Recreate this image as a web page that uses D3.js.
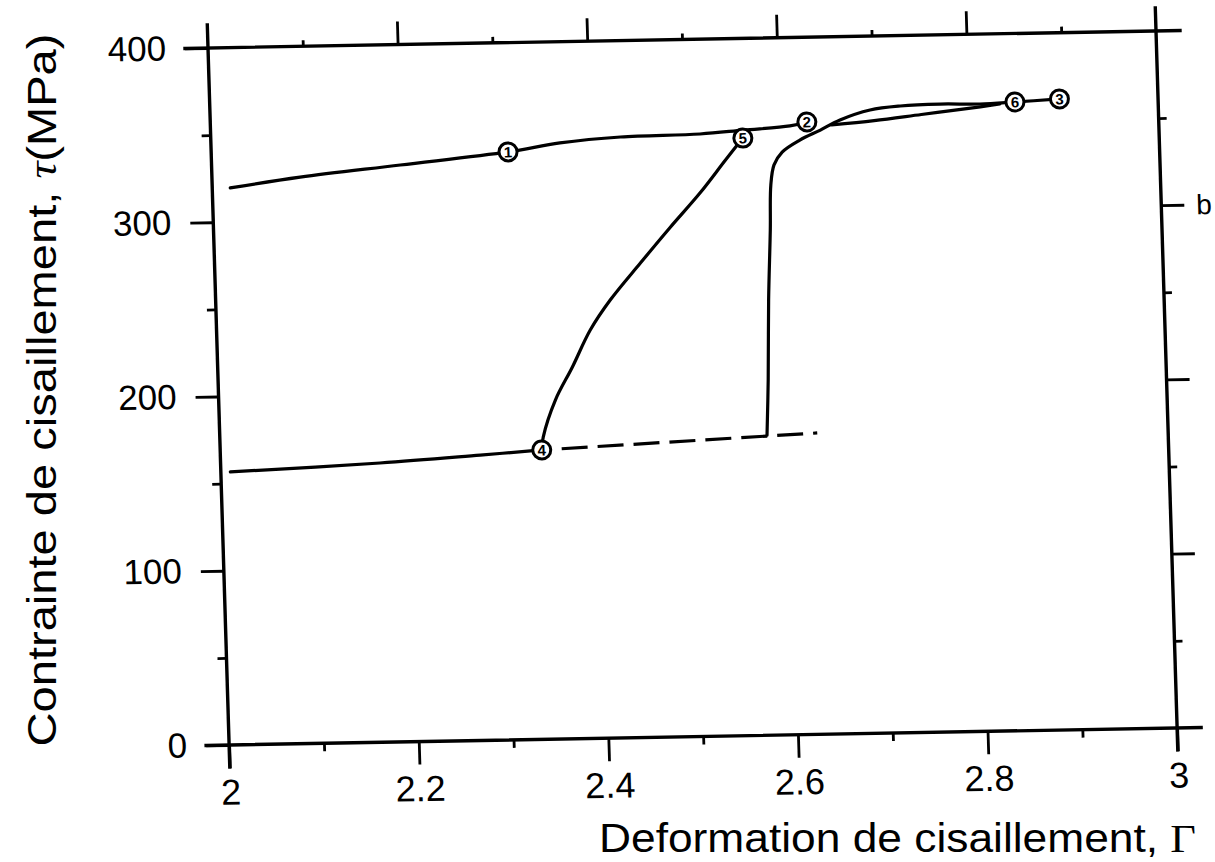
<!DOCTYPE html>
<html><head><meta charset="utf-8">
<script src="https://cdn.jsdelivr.net/npm/d3@7"></script>
<style>
html,body{margin:0;padding:0;background:#fff;}
svg{display:block;}
text{font-family:"Liberation Sans", Arial, Helvetica, sans-serif; fill:#000;}
</style></head><body>
<svg id="chart" width="1215" height="862"></svg>
<script>
// ---- tick values ----
const xMajorTicks = [2, 2.2, 2.4, 2.6, 2.8, 3];
const xMinorTicks = [2.1, 2.3, 2.5, 2.7, 2.9];
const topMajorTicks = [2.2, 2.4, 2.6, 2.8];
const yMajorTicks = [0, 100, 200, 300, 400];
const yMinorTicks = [50, 150, 250, 350];
const rightMajorTicks = [100, 200, 300];

// ---- series (shear strain Γ, shear stress τ MPa) ----
const gammaUpper = [2.019, 2.093, 2.199, 2.313, 2.368, 2.432, 2.516, 2.562, 2.611, 2.629];
const tauUpper   = [319.5, 325.0, 330.9, 337.3, 341.9, 344.7, 345.6, 347.4, 349.3, 351.4];

const gammaLower = [2.01, 2.168, 2.274, 2.339];
const tauLower   = [156.6, 160.2, 163.7, 166.0];

const gammaRise = [2.339, 2.341, 2.355, 2.374, 2.394, 2.416, 2.449, 2.481, 2.514, 2.542, 2.561];
const tauRise   = [166.0, 173.4, 194.5, 213.3, 234.3, 251.3, 272.2, 292.0, 311.7, 330.4, 342.8];

const gammaDashed = [2.339, 2.63];
const tauDashed   = [166.0, 172.9];

const gammaReload = [2.577, 2.580, 2.583, 2.587, 2.589, 2.593, 2.602, 2.621, 2.643, 2.664, 2.696, 2.728, 2.770, 2.812, 2.849, 2.896];
const tauReload   = [172.2, 203.8, 249.6, 289.8, 315.6, 327.1, 334.4, 341.1, 346.6, 352.2, 357.6, 359.6, 360.3, 359.9, 360.7, 362.0];

const gammaLens = [2.655, 2.70, 2.75, 2.80, 2.833];
const tauLens   = [349.5, 351.5, 354.5, 357.5, 359.7];

const markerLabels = ["1", "2", "3", "4", "5", "6"];
const markerGamma  = [2.313, 2.629, 2.896, 2.339, 2.561, 2.849];
const markerTau    = [337.3, 351.4, 362.0, 166.0, 342.8, 360.7];

// ---- drawing ----
const W = 948, H = 697;
const svg = d3.select("#chart");
const x = d3.scaleLinear().domain([2, 3]).range([0, W]);
const y = d3.scaleLinear().domain([0, 400]).range([H, 0]);

// scanned figure is slightly sheared
const g = svg.append("g").attr("transform", "matrix(1,-0.018,0.0303,1,208,48)");

// frame lines (extended past corners like the original)
const frame = [
  [[-23, 0], [W + 24, 0]],
  [[-23, H], [W + 24, H]],
  [[0, -23], [0, H + 22]],
  [[W, -23], [W, H + 22]]
];
g.selectAll("line.frame").data(frame).join("line")
  .attr("class", "frame")
  .attr("x1", d => d[0][0]).attr("y1", d => d[0][1])
  .attr("x2", d => d[1][0]).attr("y2", d => d[1][1])
  .attr("stroke", "#000").attr("stroke-width", 3.4).attr("stroke-linecap", "square");

function styleAxis(sel, fs) {
  sel.select(".domain").remove();
  sel.selectAll(".tick line").attr("stroke", "#000").attr("stroke-width", 2.8);
  sel.selectAll(".tick text").attr("font-size", fs).attr("fill", "#000")
    .attr("font-family", "'Liberation Sans', Arial, Helvetica, sans-serif");
}

const fmt = d3.format("~g");
g.append("g").attr("transform", `translate(0,${H})`)
  .call(d3.axisBottom(x).tickValues(xMajorTicks).tickSize(23).tickPadding(11).tickFormat(fmt))
  .call(s => styleAxis(s, 36));
g.append("g").attr("transform", `translate(0,${H})`)
  .call(d3.axisBottom(x).tickValues(xMinorTicks).tickSize(8).tickFormat(""))
  .call(s => styleAxis(s, 36));

g.append("g")
  .call(d3.axisTop(x).tickValues(topMajorTicks).tickSize(23).tickFormat(""))
  .call(s => styleAxis(s, 36));
g.append("g")
  .call(d3.axisTop(x).tickValues(xMinorTicks).tickSize(6).tickFormat(""))
  .call(s => styleAxis(s, 36));

g.append("g")
  .call(d3.axisLeft(y).tickValues(yMajorTicks).tickSize(23).tickPadding(19).tickFormat(fmt))
  .call(s => styleAxis(s, 35));
g.append("g")
  .call(d3.axisLeft(y).tickValues(yMinorTicks).tickSize(9).tickFormat(""))
  .call(s => styleAxis(s, 35));

g.append("g").attr("transform", `translate(${W},0)`)
  .call(d3.axisRight(y).tickValues(rightMajorTicks).tickSize(23).tickFormat(""))
  .call(s => styleAxis(s, 34));
g.append("g").attr("transform", `translate(${W},0)`)
  .call(d3.axisRight(y).tickValues(yMinorTicks).tickSize(8).tickFormat(""))
  .call(s => styleAxis(s, 34));

g.append("text").attr("x", W + 35).attr("y", y(300)).attr("dy", "0.35em")
  .attr("font-size", 28).text("b");

// curves
const line = d3.line().x(d => x(d[0])).y(d => y(d[1])).curve(d3.curveCatmullRom.alpha(0.5));
const zip = (a, b) => a.map((v, i) => [v, b[i]]);

const solidSeries = [
  zip(gammaUpper, tauUpper),
  zip(gammaLower, tauLower),
  zip(gammaRise, tauRise),
  zip(gammaReload, tauReload),
  zip(gammaLens, tauLens)
];
g.selectAll("path.curve").data(solidSeries).join("path")
  .attr("class", "curve")
  .attr("d", line).attr("fill", "none").attr("stroke", "#000")
  .attr("stroke-width", 3.2).attr("stroke-linejoin", "round").attr("stroke-linecap", "round");

g.append("path").datum(zip(gammaDashed, tauDashed))
  .attr("d", d3.line().x(d => x(d[0])).y(d => y(d[1])))
  .attr("fill", "none").attr("stroke", "#000").attr("stroke-width", 3.2)
  .attr("stroke-dasharray", "26,10").attr("stroke-dashoffset", -20);

// numbered markers
const markers = markerLabels.map((l, i) => ({l, gx: markerGamma[i], t: markerTau[i]}));
const mg = g.selectAll("g.marker").data(markers).join("g")
  .attr("class", "marker")
  .attr("transform", d => `translate(${x(d.gx)},${y(d.t)})`);
mg.append("circle").attr("r", 9).attr("fill", "#fff").attr("stroke", "#000").attr("stroke-width", 3);
mg.append("text").attr("text-anchor", "middle").attr("dy", "0.36em")
  .attr("font-size", 15).attr("font-weight", "bold").text(d => d.l);

// axis titles
const xt = svg.append("text").attr("x", 1196).attr("y", 852).attr("text-anchor", "end")
  .attr("font-size", 40).attr("textLength", 597).attr("lengthAdjust", "spacingAndGlyphs");
xt.append("tspan").text("Deformation de cisaillement, ");
xt.append("tspan").attr("font-family", "'Liberation Serif', 'DejaVu Serif', serif").text("Γ");

const yt = svg.append("text").attr("transform", "translate(56,390) rotate(-90)")
  .attr("text-anchor", "middle").attr("font-size", 40)
  .attr("textLength", 713).attr("lengthAdjust", "spacingAndGlyphs");
yt.append("tspan").text("Contrainte de cisaillement, ");
yt.append("tspan").attr("font-family", "'Liberation Serif', 'DejaVu Serif', serif").attr("font-style", "italic").text("τ");
yt.append("tspan").text("(MPa)");
</script>
</body></html>
